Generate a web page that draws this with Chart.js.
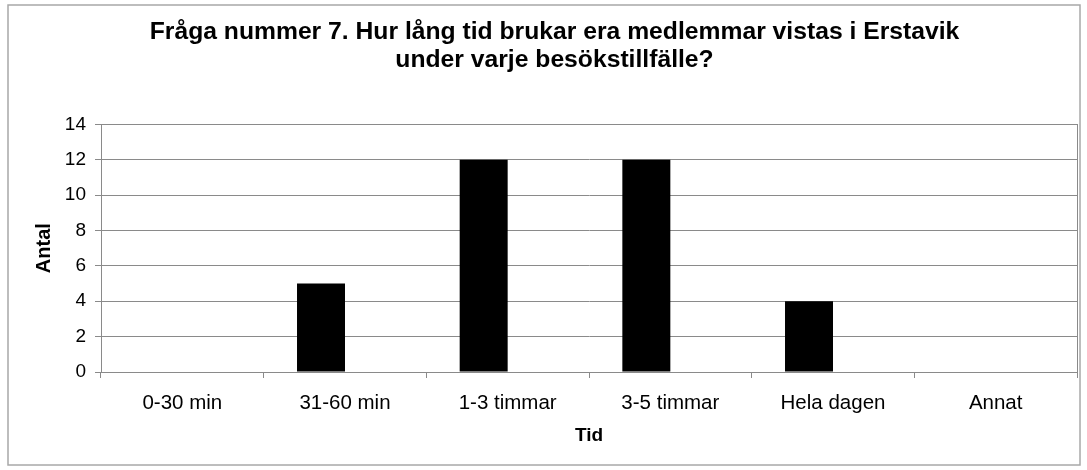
<!DOCTYPE html>
<html>
<head>
<meta charset="utf-8">
<script src="https://cdn.jsdelivr.net/npm/chart.js@4/dist/chart.umd.min.js"></script>
<style>
  html, body { margin: 0; padding: 0; background: #fff; }
  #wrap { width: 1087px; height: 470px; }
</style>
</head>
<body>
<div id="wrap"><canvas id="chart"></canvas></div>
<script>
const categories = ['0-30 min', '31-60 min', '1-3 timmar', '3-5 timmar', 'Hela dagen', 'Annat'];
const antal = [0, 5, 12, 12, 4, 0];
const tomSerie = [0, 0, 0, 0, 0, 0];
const yTicks = [0, 2, 4, 6, 8, 10, 12, 14];

const FONT = '"Liberation Sans", Arial, sans-serif';
const GRAY = '#8a8a8a';

// ram runt hela diagrammet och runt ritytan
const frames = {
    id: 'frames',
    afterDraw(chart) {
        const c = chart.ctx, a = chart.chartArea;
        c.save();
        c.lineWidth = 1.5;
        c.strokeStyle = '#a8a8a8';
        c.strokeRect(8, 5, 1072, 460);
        c.lineWidth = 1;
        c.strokeStyle = GRAY;
        c.strokeRect(Math.round(a.left) + 0.5, Math.round(a.top) + 0.5, Math.round(a.right - a.left), Math.round(a.bottom - a.top));
        c.restore();
    }
};

new Chart(document.getElementById('chart'), {
    type: 'bar',
    data: {
        labels: categories,
        datasets: [
            { label: 'Antal', data: antal, backgroundColor: '#000', borderWidth: 0 },
            { label: '', data: tomSerie, backgroundColor: 'rgba(0,0,0,0)', borderWidth: 0 }
        ]
    },
    options: {
        responsive: true,
        maintainAspectRatio: false,
        animation: false,
        datasets: { bar: { categoryPercentage: 0.59, barPercentage: 1 } },
        layout: { padding: { left: 32, right: 10, top: 0, bottom: 15 } },
        plugins: {
            legend: { display: false },
            tooltip: { enabled: false },
            title: {
                display: true,
                text: ['Fråga nummer 7. Hur lång tid brukar era medlemmar vistas i Erstavik', 'under varje besökstillfälle?'],
                color: '#000',
                font: { family: FONT, size: 24.7, weight: 'bold', lineHeight: 1.14 },
                padding: { top: 18, bottom: 50 }
            }
        },
        scales: {
            x: {
                grid: { offset: true, drawOnChartArea: false, drawTicks: true, tickLength: 6, color: GRAY },
                border: { display: true, color: GRAY },
                ticks: { color: '#000', padding: 13, font: { family: FONT, size: 20.5 } },
                title: { display: true, text: 'Tid', color: '#000', font: { family: FONT, size: 19, weight: 'bold' }, padding: { top: 4, bottom: 8 } },
                afterFit(scale) { scale.height = 83; }
            },
            y: {
                min: 0,
                max: 14,
                afterBuildTicks(scale) { scale.ticks = yTicks.map(v => ({ value: v })); },
                grid: { color: GRAY, tickLength: 6, drawTicks: true },
                border: { display: true, color: GRAY },
                ticks: { color: '#000', padding: 9, font: { family: FONT, size: 19 } },
                title: { display: true, text: 'Antal', color: '#000', font: { family: FONT, size: 20, weight: 'bold' }, padding: 0 },
                afterFit(scale) { scale.width = 69; }
            }
        }
    },
    plugins: [frames]
});
</script>
</body>
</html>
